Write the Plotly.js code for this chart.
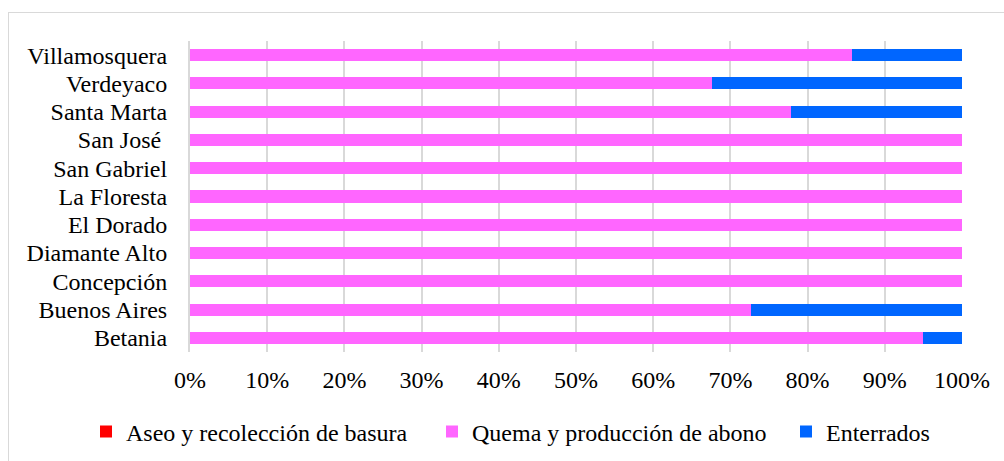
<!DOCTYPE html>
<html>
<head>
<meta charset="utf-8">
<script src="https://cdn.plot.ly/plotly-3.0.1.min.js"></script>
<style>
html,body{margin:0;padding:0;background:#fff;overflow:hidden;}
#wrap{position:relative;width:1004px;height:461px;}
#chart{position:absolute;left:0;top:0;width:1004px;height:461px;}
#frame{position:absolute;left:8px;top:12px;width:1010px;height:460px;border-top:1px solid #d9d9d9;border-left:1px solid #d9d9d9;pointer-events:none;}
</style>
</head>
<body>
<div id="wrap"><div id="chart"></div><div id="frame"></div></div>
<script>
const categories = ['Betania','Buenos Aires','Concepción','Diamante Alto','El Dorado','La Floresta','San Gabriel','San José ','Santa Marta','Verdeyaco','Villamosquera'];
const aseo = [0,0,0,0,0,0,0,0,0,0,0];
const quema = [95,72.7,100,100,100,100,100,100,77.8,67.6,85.7];
const enterrados = [5,27.3,0,0,0,0,0,0,22.2,32.4,14.3];
const seriesNames = ['Aseo y recolección de basura','Quema y producción de abono','Enterrados'];
const seriesColors = ['#ff0000','#ff66ff','#0066ff'];
const xTickVals = [0,10,20,30,40,50,60,70,80,90,100];
const xTickText = ['0%','10%','20%','30%','40%','50%','60%','70%','80%','90%','100%'];

function mkFont(){ return {family:'Liberation Serif, Times New Roman, serif', size:24, color:'#000000'}; }
const legendIds = ['legend','legend2','legend3'];
const legendLeft = [86, 432, 786];
const traces = [aseo, quema, enterrados].map((vals,i)=>({
  type:'bar', orientation:'h', name:seriesNames[i], x:vals, y:categories,
  legend:legendIds[i],
  marker:{color:seriesColors[i], line:{width:0}}
}));
function mkLegend(i){
  return {orientation:'h', xref:'container', yref:'container', x:legendLeft[i]/1004, xanchor:'left', y:0.063, yanchor:'middle', font:mkFont(), bgcolor:'rgba(0,0,0,0)', borderwidth:0};
}
const plotLayout = {
  barmode:'stack', bargap:0.575,
  width:1004, height:461,
  margin:{l:190, r:42, t:41, b:109},
  paper_bgcolor:'#ffffff', plot_bgcolor:'#ffffff',
  font:mkFont(),
  showlegend:true,
  legend:mkLegend(0), legend2:mkLegend(1), legend3:mkLegend(2),
  xaxis:{range:[0,100], tickmode:'array', tickvals:xTickVals, ticktext:xTickText, showgrid:true, gridcolor:'#d9d9d9', gridwidth:2, zeroline:false, ticks:'', ticklabelstandoff:11, tickfont:mkFont(), automargin:false},
  yaxis:{type:'category', categoryorder:'array', categoryarray:categories, tickmode:'array', tickvals:categories, showline:true, linecolor:'#d9d9d9', linewidth:2, showgrid:false, ticks:'', ticklabelstandoff:16, tickfont:mkFont(), automargin:false}
};
Plotly.newPlot('chart', traces, plotLayout, {displayModeBar:false});
</script>
</body>
</html>
